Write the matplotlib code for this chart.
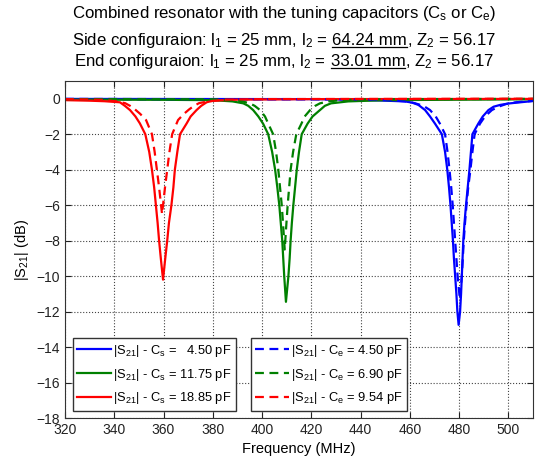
import numpy as np
import matplotlib
matplotlib.use("Agg")
import matplotlib.pyplot as plt
from matplotlib.lines import Line2D

plt.rcParams['font.family'] = ['Liberation Sans', 'DejaVu Sans']
plt.rcParams['mathtext.fontset'] = 'custom'
plt.rcParams['mathtext.rm'] = 'Liberation Sans'
plt.rcParams['mathtext.it'] = 'Liberation Sans:italic'

# |S21| (dB), side configuration (solid)
f_cs1 = [320, 420, 440, 452, 458, 461, 463.5, 466.2, 468.2, 470.2, 473.0, 474.3, 475.2, 475.9, 476.5,
         477.0, 477.5, 477.9, 478.4, 478.9, 479.3, 479.8,
         480.4, 480.8, 481.1, 481.4, 481.7, 482.2, 482.8, 483.5, 484.2, 484.8, 485.4, 487.8, 489.6,
         491.9, 494, 496.6, 500, 503.4, 510]
s_cs1 = [-0.01, -0.02, -0.06, -0.12, -0.15, -0.22, -0.35, -0.64, -1.0, -1.4, -2.0, -3.0, -4.0, -5.0, -6.0,
         -7.0, -8.0, -9.0, -10.0, -11.0, -12.0, -12.75,
         -12.0, -11.0, -10.0, -9.0, -8.0, -7.0, -6.0, -5.0, -4.0, -3.0, -2.0, -1.4, -1.0,
         -0.64, -0.45, -0.35, -0.27, -0.22, -0.13]

f_cs2 = [320, 360, 380, 388, 392.4, 394.4, 396.4, 398.5, 400.4, 402.5, 404.1, 405.3, 406.2, 407.0, 407.6,
         408.2, 408.6, 409.0, 409.7,
         410.7, 411.2, 411.6, 412.1, 412.7, 413.4, 414.1, 415.0, 416.1, 418.5, 420.5, 423.5, 425.5, 428,
         435, 450, 510]
s_cs2 = [-0.05, -0.06, -0.08, -0.15, -0.26, -0.4, -0.64, -1.0, -1.4, -2.0, -3.0, -4.0, -5.0, -6.0, -7.0,
         -8.0, -9.0, -10.0, -11.45,
         -10.0, -9.0, -8.0, -7.0, -6.0, -5.0, -4.0, -3.0, -2.0, -1.4, -1.0, -0.64, -0.4, -0.26,
         -0.15, -0.08, -0.03]

f_cs3 = [320, 330, 336, 342.3, 344.3, 346.4, 348.6, 350.4, 352.6, 354.2, 355.3, 356.2, 356.9, 357.6,
         358.2, 358.9, 359.8,
         360.7, 361.5, 362.2, 363.2, 364.0, 364.6, 365.6, 366.7, 369.4, 371.0, 373.4, 375.3, 377.5,
         380, 390, 420, 510]
s_cs3 = [-0.08, -0.11, -0.14, -0.2, -0.4, -0.64, -1.0, -1.39, -2.0, -3.0, -4.0, -5.0, -6.0, -7.0,
         -8.0, -9.0, -10.2,
         -9.0, -8.0, -7.0, -6.0, -5.0, -4.0, -3.0, -2.0, -1.39, -1.0, -0.64, -0.4, -0.2,
         -0.11, -0.05, -0.02, -0.01]

# end configuration (dashed)
f_ce1 = [320, 440, 452, 458, 462, 465.5, 468.2, 470.5, 472.2, 474.3, 475.3, 476.1, 476.8, 477.4, 477.9,
         478.4, 478.9, 479.4, 480.3,
         481.1, 481.5, 481.9, 482.4, 483.0, 483.7, 484.6, 485.4, 486.3, 488.5, 490.5, 493.3, 496, 499,
         503, 510]
s_ce1 = [-0.01, -0.04, -0.08, -0.15, -0.25, -0.4, -0.64, -1.0, -1.4, -2.0, -3.0, -4.0, -5.0, -6.0, -7.0,
         -8.0, -9.0, -10.0, -11.3,
         -10.0, -9.0, -8.0, -7.0, -6.0, -5.0, -4.0, -3.0, -2.0, -1.4, -1.0, -0.64, -0.45, -0.3,
         -0.2, -0.12]

f_ce2 = [320, 380, 388, 392, 395, 397, 399.2, 401.2, 402.5, 404.5, 405.7, 406.6, 407.3, 408.0, 408.5,
         409.2,
         409.9, 410.4, 411.0, 411.6, 412.6, 413.9, 416, 417.3, 419.5, 421.6, 423.5, 427, 432, 445, 510]
s_ce2 = [-0.02, -0.03, -0.08, -0.15, -0.26, -0.4, -0.64, -1.0, -1.4, -2.0, -3.0, -4.0, -5.0, -6.0, -7.0,
         -8.5,
         -7.0, -6.0, -5.0, -4.0, -3.0, -2.0, -1.4, -1.0, -0.64, -0.4, -0.26, -0.15, -0.08, -0.03, -0.01]

f_ce3 = [320, 335, 341, 344.4, 346.4, 348.4, 350.5, 352.9, 355.3, 356.4, 357.3, 358.2, 359.4,
         360.6, 361.5, 362.4, 363.5, 365.9, 368.3, 370.4, 372.4, 374.4, 378, 385, 400, 510]
s_ce3 = [-0.02, -0.06, -0.15, -0.25, -0.4, -0.6, -0.85, -1.2, -2.0, -3.0, -4.0, -5.0, -6.5,
         -5.0, -4.0, -3.0, -2.0, -1.2, -0.85, -0.6, -0.4, -0.25, -0.15, -0.05, -0.02, 0.0]

cs_vals = ['  4.50', '11.75', '18.85']
ce_vals = ['4.50', '6.90', '9.54']
colors = ['#0000ff', '#008000', '#ff0000']

fig = plt.figure(figsize=(5.44, 4.61), dpi=100)
ax = fig.add_axes([65 / 544, 1 - 418 / 461, 468 / 544, 337 / 461])

solid = []
for f, s, c, v in zip([f_cs1, f_cs2, f_cs3], [s_cs1, s_cs2, s_cs3], colors, cs_vals):
    ln, = ax.plot(f, s, '-', color=c, lw=1.6,
                  label=r'|S$_{21}$| - C$_{\mathrm{s}}$ = ' + v + ' pF')
    solid.append(ln)
dashed = []
for f, s, c, v in zip([f_ce1, f_ce2, f_ce3], [s_ce1, s_ce2, s_ce3], colors, ce_vals):
    ln, = ax.plot(f, s, '--', color=c, lw=1.6, dashes=(4, 2.5),
                  label=r'|S$_{21}$| - C$_{\mathrm{e}}$ = ' + v + ' pF')
    dashed.append(ln)

ax.set_xlim(320, 510)
ax.set_ylim(-18, 1)
ax.set_xticks(np.arange(320, 501, 20))
ax.set_yticks(np.arange(-18, 1, 2))
ax.tick_params(direction='in', labelsize=10, length=4, colors='#222222', top=True, right=True)
ax.grid(True, linestyle=':', color='#444444', lw=0.8)
for sp in ax.spines.values():
    sp.set_color('#333333')
ax.set_xlabel('Frequency (MHz)', fontsize=10.5)
ax.set_ylabel(r'|S$_{21}$| (dB)', fontsize=10.5)

leg_kw = dict(loc='lower left', borderaxespad=0, fontsize=9.3, fancybox=False, edgecolor='#333333',
              framealpha=1, handlelength=2.6, handletextpad=0.15, labelspacing=0.6, borderpad=0.35)
leg1 = ax.legend(handles=solid, bbox_to_anchor=(0.017, 0.021), **leg_kw)
ax.add_artist(leg1)
ax.legend(handles=dashed, bbox_to_anchor=(0.397, 0.021), **leg_kw)

# title lines, with underlined lengths
title_lines = [
    [(r'Combined resonator with the tuning capacitors (C$_{\mathrm{s}}$ or C$_{\mathrm{e}}$)', False)],
    [(r'Side configuraion: l$_1$ = 25 mm, l$_2$ =', False), ('64.24 mm', True), (r', Z$_2$ = 56.17', False)],
    [(r'End configuraion: l$_1$ = 25 mm, l$_2$ =', False), ('33.01 mm', True), (r', Z$_2$ = 56.17', False)],
]
baselines = [18, 45, 66]
xc = 284
tsize = 12.1
fig.canvas.draw()
r = fig.canvas.get_renderer()
gap = tsize * 100 / 72 * 0.278  # width of a space
for parts, yb in zip(title_lines, baselines):
    texts = [fig.text(0, 1 - yb / 461, p, fontsize=tsize, va='baseline', ha='left') for p, u in parts]
    widths = [t.get_window_extent(r).width for t in texts]
    x = xc - (sum(widths) + gap * (len(parts) - 1) * 0.5) / 2
    for t, w, (p, u) in zip(texts, widths, parts):
        if u:
            x += gap
        t.set_x(x / 544)
        if u:
            fig.add_artist(Line2D([x / 544, (x + w) / 544], [1 - (yb + 2.5) / 461] * 2,
                                  color='black', lw=0.9, transform=fig.transFigure))
        x += w

fig.savefig('out.png', dpi=100)
